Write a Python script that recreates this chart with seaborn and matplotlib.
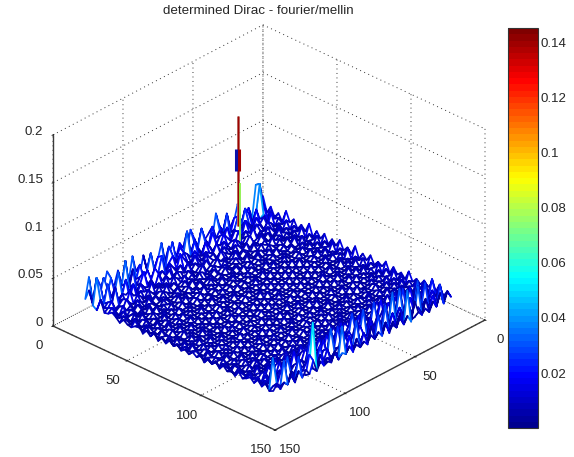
import numpy as np
import matplotlib
matplotlib.use("Agg")
import matplotlib.pyplot as plt
import seaborn as sns
from matplotlib.colors import LinearSegmentedColormap, Normalize
from matplotlib.cm import ScalarMappable
from mpl_toolkits.mplot3d import proj3d

# surface heights in thousandths, estimated by eye on a coarse grid
heights_milli = [
[22,9,38,6,18,11,5,28,12,7, 24,8,15,30,6,13,9,21,5,16, 27,7,12,19,5,24,10,8,29,14, 6,18,9,26,7,13,31,8,17,5, 24,11,7,29,13,8,22,6,33,12],
[7,18,41,12,5,16,23,7,10,19, 6,27,9,14,8,22,5,12,26,8, 15,6,31,9,18,7,13,25,5,11, 20,8,28,12,5,22,9,16,7,34, 10,19,6,24,9,28,12,17,8,23],
[15,5,11,8,20,4,9,14,6,23, 11,4,17,7,12,5,19,8,13,4, 9,21,6,11,15,4,8,17,12,5, 23,7,10,4,16,9,13,6,25,8, 14,5,30,11,7,19,5,26,36,9],
[6,14,4,12,7,15,5,10,18,5, 8,13,5,10,16,6,9,4,11,17, 5,8,14,4,7,12,19,5,9,14, 4,11,6,18,8,5,20,10,4,13, 7,22,8,5,16,11,27,9,14,6],
[12,8,16,5,3,9,12,4,7,11, 5,15,4,8,6,12,3,14,6,8, 11,4,7,13,5,9,4,11,6,4, 12,8,5,14,3,10,6,8,13,5, 17,4,10,13,6,24,7,12,8,19],
[5,11,4,9,13,5,7,3,14,6, 9,3,8,12,4,6,10,5,3,9, 7,12,3,6,9,4,13,5,8,10, 4,6,11,4,8,5,13,4,7,10, 5,9,16,4,11,7,5,15,10,7],
[18,6,9,3,7,11,4,8,5,3, 12,6,4,7,10,3,5,8,12,4, 6,3,10,5,7,3,6,9,3,5, 7,11,3,8,5,9,3,6,11,4, 8,12,4,7,13,5,9,6,12,8],
[8,12,4,10,5,3,9,6,10,4, 7,3,10,5,3,8,6,3,7,5, 10,4,6,3,11,5,3,7,4,10, 5,3,8,5,10,3,7,5,3,9, 4,6,10,3,8,5,12,4,7,11],
[13,4,8,5,11,6,3,4,7,3, 5,9,3,6,8,4,11,5,3,8, 3,5,8,4,3,7,9,3,6,3, 8,4,6,3,3,6,9,3,8,5, 10,3,5,9,5,8,3,10,5,8],
[5,10,3,7,3,8,5,10,3,6, 9,4,5,3,7,3,5,8,4,3, 7,6,3,8,5,3,4,6,3,9, 4,6,3,9,5,3,4,7,4,3, 6,8,4,6,3,7,6,5,9,4],
[11,6,9,3,6,4,8,3,5,8, 3,6,7,3,4,9,3,4,6,3, 4,8,3,5,3,7,5,3,7,4, 3,8,4,3,7,5,3,6,8,3, 5,3,9,3,7,4,9,3,6,9],
[6,13,4,8,3,9,3,6,4,3, 7,3,3,8,5,3,6,3,3,7, 5,3,4,6,3,4,8,3,4,3, 6,3,5,6,3,8,3,4,5,7, 3,9,4,5,3,9,3,8,4,6],
[16,3,7,4,10,5,3,7,3,8, 4,5,3,3,6,3,7,3,8,4, 3,6,3,3,7,3,3,6,3,8, 3,5,3,3,7,3,5,3,8,3, 6,3,5,8,3,5,7,4,10,5],
[4,9,3,11,3,3,7,3,5,3, 3,7,4,6,3,4,3,6,3,3, 5,3,7,4,3,3,6,3,5,3, 3,7,3,6,3,3,7,3,3,6, 3,7,3,4,6,3,8,3,5,8],
[12,5,6,3,8,3,5,3,3,6, 3,3,5,3,7,3,3,5,3,7, 3,3,3,6,3,5,3,3,6,3,5,3,3,7,3,5,3,3,7,3, 4,3,8,3,6,3,4,7,3,11],
[6,11,3,7,3,7,3,6,3,4, 7,3,3,7,3,3,6,3,3,3, 6,3,5,3,3,6,3,7,3,3, 5,3,6,3,3,3,6,3,4,3, 7,3,3,6,3,8,3,6,9,4],
[13,3,8,3,5,3,3,7,3,3, 3,6,3,3,5,3,3,7,3,5, 3,3,6,3,7,3,3,3,5,3, 3,7,3,3,5,3,3,6,3,7, 3,5,3,7,3,3,6,3,4,9],
[4,9,4,6,3,9,3,3,5,3, 7,3,3,6,3,3,7,3,3,3, 7,3,3,3,4,3,6,3,3,7, 3,3,3,6,3,7,3,3,5,3, 3,7,3,3,8,3,5,3,7,5],
[11,5,7,3,7,3,5,3,3,8, 3,3,5,3,3,6,3,3,5,3, 3,5,3,6,3,3,3,7,3,3, 5,3,6,3,3,3,5,3,3,7, 3,3,6,3,3,6,3,9,3,10],
[6,12,3,9,3,3,7,3,6,3, 3,5,3,3,7,3,3,5,3,3, 6,3,3,3,6,3,5,3,3,4, 3,3,7,3,3,6,3,3,6,3, 5,3,3,7,3,7,3,5,6,4],
[14,3,6,3,6,3,3,5,3,3, 6,3,3,7,3,3,4,3,3,7, 3,3,5,3,3,3,7,3,3,6, 3,5,3,3,7,3,3,5,3,3, 3,7,3,3,5,3,3,7,3,9],
[5,9,5,7,3,8,3,3,3,7, 3,3,4,3,3,6,3,3,6,3, 3,3,3,7,3,3,3,3,6,3, 3,3,6,3,3,3,7,3,3,6, 3,3,5,3,8,3,6,3,8,5],
[10,4,8,3,3,3,6,3,6,3, 3,7,3,3,6,3,3,7,3,3, 5,3,7,3,3,5,3,3,3,3, 7,3,3,4,3,6,3,3,5,3, 6,3,3,6,3,3,4,8,3,10],
[5,13,3,7,4,3,5,3,3,3, 6,3,3,5,3,3,5,3,3,3, 6,3,3,3,6,3,3,7,3,3, 4,3,3,7,3,3,3,6,3,3, 3,7,3,3,7,3,6,3,6,6],
[15,3,6,3,9,3,3,7,3,6, 3,3,5,3,3,7,3,3,4,3, 3,7,3,5,3,3,6,3,3,5, 3,3,7,3,3,5,3,3,6,3, 5,3,4,6,3,5,3,8,3,9],
[4,8,3,7,3,3,6,3,3,3, 7,3,3,3,5,3,3,3,6,3, 3,3,5,3,3,7,3,3,5,3, 3,6,3,3,5,3,3,7,3,3, 3,6,3,3,7,3,6,3,7,5],
[11,6,9,3,6,3,3,6,3,5, 3,3,7,3,3,4,3,6,3,3, 7,3,3,3,6,3,3,3,7,3, 5,3,3,3,6,3,7,3,3,5, 3,3,7,3,3,4,3,9,4,8],
[6,10,3,5,3,8,3,3,7,3, 3,6,3,3,6,3,3,5,3,6, 3,3,6,3,3,5,3,6,3,3, 3,4,6,3,3,3,3,6,3,3, 7,3,3,5,3,8,3,4,6,5],
[13,3,7,3,7,3,5,3,3,3, 7,3,3,5,3,3,7,3,3,3, 5,3,3,7,3,3,3,3,5,3, 7,3,3,5,3,7,3,3,4,3, 3,6,3,3,6,3,6,3,8,9],
[5,9,4,9,3,3,3,7,3,6, 3,3,4,3,3,6,3,3,4,3, 3,7,3,3,4,3,7,3,3,6, 3,3,3,6,3,3,3,7,3,6, 3,3,4,7,3,3,7,3,5,6],
[10,6,7,3,6,3,8,3,3,3, 5,3,3,7,3,3,3,6,3,7, 3,3,5,3,3,6,3,3,5,3, 3,6,3,3,5,3,6,3,3,3, 6,3,7,3,3,5,3,9,3,10],
[7,12,3,6,3,5,3,4,7,3, 3,7,3,3,5,3,3,3,7,3, 3,3,6,3,3,3,3,7,3,3, 5,3,3,7,3,3,3,4,3,7, 3,3,3,6,3,8,3,5,7,4],
[14,3,9,3,8,3,3,6,3,3, 7,3,3,3,6,3,6,3,3,3, 6,3,3,3,7,3,5,3,3,4, 3,3,7,3,3,6,3,3,6,3, 3,7,3,3,6,3,4,7,3,9],
[4,10,4,7,3,7,3,3,3,8, 3,3,5,3,3,3,3,7,3,5, 3,3,7,3,3,3,3,6,3,3, 7,3,3,3,5,3,7,3,3,3, 6,3,4,7,3,7,3,6,6,6],
[12,5,6,3,5,3,6,3,5,3, 3,6,3,7,3,5,3,3,3,3, 7,3,3,5,3,6,3,3,5,3, 3,5,3,7,3,3,3,5,3,7, 3,3,6,3,3,4,3,9,3,11],
[6,13,3,10,3,3,8,3,3,5, 3,3,3,3,6,3,7,3,5,3, 3,6,3,3,3,7,3,3,3,7, 3,3,3,3,6,3,3,7,3,3, 5,3,3,8,3,7,3,5,8,5],
[10,4,8,3,8,4,3,5,3,7, 3,5,7,3,3,3,3,6,3,3, 7,3,3,6,3,3,5,3,6,3, 3,7,3,5,3,3,6,3,3,5, 3,8,3,3,6,3,6,3,6,10],
[5,11,3,7,3,6,3,7,3,3, 8,3,3,5,3,6,3,3,6,3, 3,3,7,3,3,5,3,3,7,3, 4,3,3,6,3,8,3,3,6,3, 6,3,6,3,8,3,4,8,4,6],
[15,3,10,3,5,3,9,3,5,3, 4,7,3,3,7,3,3,4,3,7, 3,5,3,3,6,3,3,8,3,3, 6,3,7,3,3,4,3,7,3,3, 8,3,4,7,3,6,3,7,3,9],
[6,9,4,8,3,8,3,4,3,8, 3,3,6,3,3,5,3,8,3,3, 7,3,3,8,3,5,3,3,6,3, 3,8,3,3,6,3,8,3,5,3, 3,7,3,9,3,8,3,5,8,5],
[11,5,7,3,10,3,5,3,10,3, 6,3,3,9,3,7,3,3,5,3, 3,9,3,3,5,3,8,3,3,9, 3,3,5,3,9,3,3,5,3,9, 3,5,3,3,8,3,6,3,7,11],
[7,13,3,9,3,6,3,12,3,3, 9,3,13,3,5,3,11,3,7,3, 9,3,5,3,10,3,3,7,3,3, 11,3,6,3,3,8,3,10,3,4, 9,3,8,4,3,10,3,9,6,6],
[13,6,11,3,7,3,14,3,6,10, 3,6,3,4,10,3,3,13,3,9, 3,6,12,3,4,3,12,3,8,3, 3,10,3,7,12,3,5,3,8,3, 3,12,3,9,5,3,7,3,10,8],
[8,16,4,13,3,17,3,5,3,15, 3,11,4,20,3,7,3,9,3,16, 4,3,10,3,18,3,6,3,11,3, 14,3,4,13,3,9,3,11,3,14, 5,3,10,3,12,3,9,5,7,11],
[14,5,19,3,8,3,10,3,24,3, 7,3,17,3,9,3,26,3,5,3, 12,3,26,3,6,3,20,3,5,17, 3,7,3,10,3,14,3,6,18,3, 9,4,15,3,8,3,13,3,11,7],
[7,22,3,12,3,28,3,14,3,8, 30,3,10,3,22,3,7,4,15,3, 28,3,8,3,13,3,4,24,3,9, 3,18,3,6,3,12,4,9,3,8, 3,16,3,10,3,19,3,12,6,12],
[16,6,14,4,26,3,9,3,18,3, 5,14,3,34,3,12,3,19,3,8, 3,5,17,3,9,3,14,3,6,3, 30,3,11,3,8,3,24,3,5,12, 3,7,18,3,6,3,12,6,11,7],
[6,18,3,9,3,12,3,30,3,9, 20,3,7,3,16,3,28,3,6,3, 18,3,10,3,28,3,6,3,11,3, 7,3,14,3,22,3,50,3,10,3, 15,3,6,28,3,14,3,35,4,12],
[13,4,24,3,16,3,7,3,12,4, 3,36,3,12,3,8,3,14,3,26, 3,9,3,15,3,7,3,20,3,34, 3,11,3,9,3,16,3,6,22,3, 9,26,3,11,3,30,5,10,9,6],
[9,17,6,19,7,14,5,21,6,11, 24,5,13,6,20,7,15,5,18,6, 12,7,22,5,10,6,17,5,13,7, 10,5,16,6,9,7,13,5,18,6, 12,6,15,5,19,7,11,6,13,8],
]
axis_ticks = [0, 50, 100, 150]
z_ticks = [0, 0.05, 0.1, 0.15, 0.2]
z_tick_labels = ["0", "0.05", "0.1", "0.15", "0.2"]
cbar_ticks = [0.02, 0.04, 0.06, 0.08, 0.1, 0.12, 0.14]
cbar_tick_labels = ["0.02", "0.04", "0.06", "0.08", "0.1", "0.12", "0.14"]
color_min, color_max = 0.0001, 0.1451
axis_extent = 150
grid_extent = 128

peak_col, peak_row = 35, 16
peak_dark_z = [0.028, 0.1434]
peak_thick_z = [0.0858, 0.109]
peak_green_z = [0.0126, 0.0733]

sns.set_theme(style="white", font="Liberation Sans")
plt.rcParams["font.family"] = ["Liberation Sans", "DejaVu Sans"]
text_col = "#262626"

Z = np.array(heights_milli, dtype=float) / 1000.0
rows, cols = Z.shape
Xg, Yg = np.meshgrid(np.linspace(1, grid_extent, cols), np.linspace(1, grid_extent, rows))

anch = [(0, (0, 0, .5625)), (8/64, (0, 0, 1)), (24/64, (0, 1, 1)), (40/64, (1, 1, 0)), (56/64, (1, 0, 0)), (1, (.5, 0, 0))]
matlab_jet = LinearSegmentedColormap.from_list("matlab_jet", anch, N=64)
norm = Normalize(color_min, color_max)

W, H = 574, 457
fig = plt.figure(figsize=(W/100, H/100), dpi=100, facecolor="white")
side = 400
ax = fig.add_axes([0, 0, side/W, side/H], projection="3d", proj_type="ortho", computed_zorder=False)
ax.view_init(elev=29.7, azim=43.4)
ax.set_box_aspect((1, 1, 0.72))
ax.set_xlim(0, axis_extent); ax.set_ylim(0, axis_extent); ax.set_zlim(0, 0.2)
ax.patch.set_alpha(0)

surf = ax.plot_surface(Xg, Yg, Z, rstride=1, cstride=1, facecolors=np.ones(Z.shape + (4,)),
                       shade=False, linewidth=1.25, zorder=2)
surf.set_edgecolors(matlab_jet(norm(Z[:-1, :-1])).reshape(-1, 4))

px = axis_extent / 222.0
ax.plot([peak_col]*2, [peak_row]*2, peak_dark_z, color="#b05a50", lw=2.0, zorder=3, solid_capstyle="butt")
ax.plot([peak_col]*2, [peak_row]*2, peak_dark_z, color=matlab_jet(norm(0.14)), lw=0.8, zorder=3, solid_capstyle="butt")
ax.plot([peak_col - px*1.2]*2, [peak_row + px*1.2]*2, peak_green_z, color="#8cf04a", lw=1.3, zorder=4, solid_capstyle="butt")
ax.plot([peak_col - px*0.6]*2, [peak_row + px*0.6]*2, peak_thick_z, color=matlab_jet(norm(0.14)), lw=2.2, zorder=4, solid_capstyle="butt")
ax.plot([peak_col + px*0.9]*2, [peak_row - px*0.9]*2, peak_thick_z, color="#0a10a8", lw=2.2, zorder=4, solid_capstyle="butt")

ax.set_xticks(axis_ticks); ax.set_yticks(axis_ticks); ax.set_zticks(z_ticks)
ax.set_xticklabels([str(t) for t in axis_ticks]); ax.set_yticklabels([str(t) for t in axis_ticks])
ax.set_zticklabels(z_tick_labels)
ax.zaxis.set_ticks_position("lower")
for a in (ax.xaxis, ax.yaxis, ax.zaxis):
    a.set_pane_color((1, 1, 1, 0))
    a.pane.set_edgecolor("none")
    a.line.set_color("#3a3a3a"); a.line.set_linewidth(1.0)
    a._axinfo["grid"].update(color="#333333", linewidth=0.7, linestyle=(0, (1, 3.6)))
    a._axinfo["tick"].update(inward_factor=0.06, outward_factor=0.06, linewidth={True: 0.7, False: 0.5}, color="#333333")
ax.tick_params(axis="both", labelsize=9.5, colors=text_col, pad=4)
ax.tick_params(axis="z", labelsize=9.5, colors=text_col, pad=-4)
for t in ax.get_xticklabels() + ax.get_yticklabels():
    t.set_ha("center"); t.set_va("center")
for t in ax.get_zticklabels():
    t.set_ha("right"); t.set_va("baseline")
ax.grid(True)

# scale and place the box so that its corners land where the frame of the picture needs them
def corner(x, y, z):
    ax.apply_aspect()
    p = proj3d.proj_transform(x, y, z, ax.get_proj())
    return ax.transData.transform((p[0], p[1]))

fig.canvas.draw()
left = corner(axis_extent, 0, 0); right = corner(0, axis_extent, 0)
scale = (485 - 53) / (right[0] - left[0])
side *= scale
ax.set_position([0, 0, side/W, side/H])
fig.canvas.draw()
left = corner(axis_extent, 0, 0)
dx, dy = 53 - left[0], (H - 326) - left[1]
ax.set_position([dx/W, dy/H, side/W, side/H])

cax = fig.add_axes([508/W, (H-428)/H, 30/W, 400/H])
cb = fig.colorbar(ScalarMappable(norm=norm, cmap=matlab_jet), cax=cax)
cb.set_ticks(cbar_ticks); cb.set_ticklabels(cbar_tick_labels)
cax.tick_params(axis="y", which="both", left=True, right=True, direction="in", length=3, width=0.7,
                labelsize=9.5, labelcolor=text_col, color="#222222", pad=2)
cb.outline.set_edgecolor("#333333"); cb.outline.set_linewidth(0.8)

fig.text(258/W, 1 - 11/H, "determined Dirac - fourier/mellin", ha="center", va="center", fontsize=9.6, color=text_col)
fig.savefig("out.png", dpi=100)
